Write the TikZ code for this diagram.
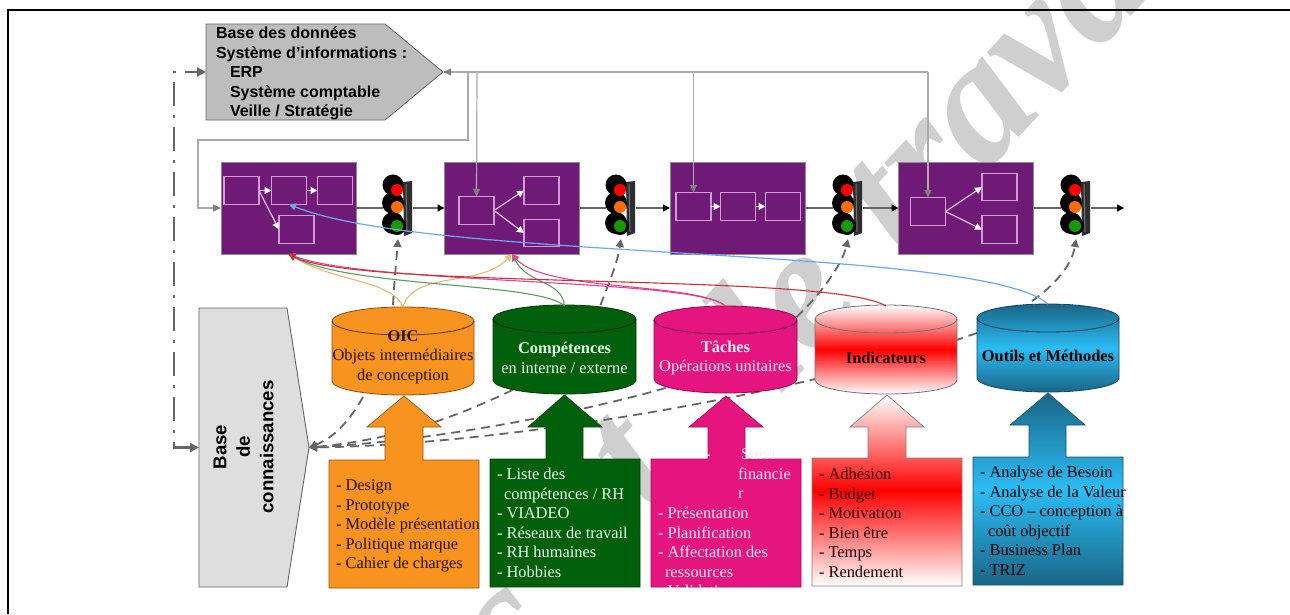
\documentclass[tikz,border=0pt]{standalone}
\usepackage{fontspec}
\setmainfont{Liberation Serif}
\setsansfont{Liberation Sans}
\usetikzlibrary{arrows.meta,calc}
\definecolor{purp}{HTML}{701A78}
\definecolor{pinkln}{HTML}{D79AD9}
\definecolor{grln}{HTML}{ABABAB}
\definecolor{dk}{HTML}{666666}
\definecolor{orng}{HTML}{F7931E}
\definecolor{grn}{HTML}{005F0B}
\definecolor{mag}{HTML}{E5147E}
\definecolor{bluedk}{HTML}{1A6585}
\definecolor{bluelt}{HTML}{2BBDF5}
\definecolor{wm}{HTML}{CFCFCF}
\tikzset{
 every node/.style={inner sep=0pt,outer sep=0pt},
 proc/.style={draw=black!45,fill=purp,line width=.7pt,minimum width=135pt,minimum height=92pt},
 sub/.style={draw=pinkln,line width=1.2pt,minimum width=35pt,minimum height=27.5pt},
 wa/.style={draw=pinkln!60!white,line width=1.2pt,-{Triangle[length=7pt,width=7pt,color=white]}},
 feed/.style={draw=grln,line width=1.2pt},
 feedar/.style={feed,-{Triangle[length=8pt,width=7pt,color=gray]}},
 mainln/.style={draw=dk,line width=1.5pt},
 mainar/.style={mainln,-{Triangle[length=7pt,width=7pt,color=black]}},
 dashar/.style={draw=dk,line width=1.8pt,dash pattern=on 9pt off 6pt,-{Triangle[length=8pt,width=8pt,color=dk]}},
 tl/.style={minimum width=30pt,minimum height=62pt},
 lk/.style={line width=1.1pt,-{Triangle[length=7pt,width=7pt]}},
 lst/.style={anchor=north west,align=left,font=\fontsize{16.4}{19.5}\selectfont},
 cyltx/.style={align=center,font=\fontsize{16.4}{19.5}\selectfont},
 cylbox/.style={minimum height=88pt,minimum width=142pt},
 wmtx/.style={rotate=47,text=wm,font=\fontsize{175}{175}\selectfont\bfseries\itshape},
}
\newcommand\cylp[4]{% x1 x2 ytop ybot
 \pgfmathsetmacro\xm{(#1+#2)/2}\pgfmathsetmacro\ka{(#2-#1)/2*.5523}
 \pgfmathsetmacro\ytt{#3+14}\pgfmathsetmacro\ybb{#4-14}
 \pgfmathsetmacro\ya{#3+6.3}\pgfmathsetmacro\yb{#4-6.3}\pgfmathsetmacro\yc{#3+21.7}\pgfmathsetmacro\yd{#3+28}
 \pgfmathsetmacro\xa{\xm-\ka}\pgfmathsetmacro\xb{\xm+\ka}
 \path[cylfill] (#1,\ytt) .. controls (#1,\ya) and (\xa,#3) .. (\xm,#3) .. controls (\xb,#3) and (#2,\ya) .. (#2,\ytt) -- (#2,\ybb) .. controls (#2,\yb) and (\xb,#4) .. (\xm,#4) .. controls (\xa,#4) and (#1,\yb) .. (#1,\ybb) -- cycle;
 \path[cylline] (#1,\ytt) .. controls (#1,\yc) and (\xa,\yd) .. (\xm,\yd) .. controls (\xb,\yd) and (#2,\yc) .. (#2,\ytt);}
\newcommand\arbox[9]{% boxl boxr boxt boxb shaftl shaftr wingl wingr wingy ; tip from macros
 \path[arfill] (#1,#3) -- (#5,#3) -- (#5,#9) -- (#7,#9) -- (\tipx,\tipy) -- (#8,#9) -- (#6,#9) -- (#6,#3) -- (#2,#3) -- (#2,#4) -- (#1,#4) -- cycle;}
\newcommand\tlight[1]{%
 \path[fill=black!82] ($(#1.center)+(5,-26)$) -- ($(#1.center)+(14,-27)$) -- ($(#1.center)+(14,25)$) -- ($(#1.center)+(6,28)$) -- cycle;
 \draw[black!55,line width=1pt] ($(#1.center)+(8,-24)$) -- ($(#1.center)+(9,24)$);
 \fill[black] ($(#1.center)+(-5,-23)$) circle[radius=10.5pt];
 \fill[black] ($(#1.center)+(-5,-5)$) circle[radius=11pt];
 \fill[black] ($(#1.center)+(-5,15)$) circle[radius=11pt];
 \fill[black] ($(#1.center)+(-1,18)$) circle[radius=9pt];
 \fill[red] ($(#1.center)+(-1,-18)$) circle[radius=6pt];
 \fill[orange!85!red] ($(#1.center)+(-1,-1)$) circle[radius=6pt];
 \fill[green!55!black!90!yellow] ($(#1.center)+(-1,18)$) circle[radius=6pt];}
\begin{document}
\begin{tikzpicture}[x=1pt,y=-1pt]
\useasboundingbox (0,0) rectangle (1290,614);
\fill[white] (0,0) rectangle (1290,614);
% watermark
\begin{scope}
\clip (0,0) rectangle (1290,614);
\node[wmtx] (wm1) at (510,640) {c};
\node[wmtx] (wm2) at (632,462) {t};
\node[wmtx] (wm3) at (779,309) {le};
\node[wmtx] (wm4) at (996,91) {trava};
\end{scope}
% frame
\draw[black,line width=2pt] (7,10) -- (1290,10);
\draw[black,line width=1.8pt] (8,10) -- (8,614);
% nodes: cylinders (anchors only)
\node[cylbox] (oic) at (403,351) {};
\node[cylbox] (comp) at (564.5,350) {};
\node[cylbox] (tach) at (725.5,350) {};
\node[cylbox] (indi) at (886,350) {};
\node[cylbox] (outi) at (1048,348) {};
\node[minimum width=237pt,minimum height=96pt] (sys) at (324.5,72) {};
\node[minimum width=110pt,minimum height=279pt] (base) at (254,447.5) {};
% dashed to base
\draw[dashar] (oic.south west)+(31,2) .. controls (350,420) and (335,437) .. (base.east);
\draw[dashar] (comp.south west)+(19,-4) .. controls (450,420) and (390,440) .. (base.east);
\draw[dashar] (tach.south west)+(11,-6) .. controls (600,407) and (450,440) .. (base.east);
\draw[dashar] (outi.west)+(0,-15) .. controls (800,395) and (500,445) .. (base.east);
% pentagon + base shape
\path[fill=black!26,draw=dk,line width=.8pt] (206,24) -- (385,24) -- (443,72) -- (385,120) -- (206,120) -- cycle;
\path[fill=black!13,draw=dk,line width=.9pt] (199,308) -- (287,308) -- (309,447.5) -- (287,587) -- (199,587) -- cycle;
% arrow boxes
\def\tipx{404}\def\tipy{396}
\begingroup\tikzset{arfill/.style={fill=orng,draw=orng!60!black,line width=.7pt}}
\arbox{329}{479}{460}{588}{385}{423}{367}{441}{427}\endgroup
\def\tipx{564.5}\def\tipy{395}
\begingroup\tikzset{arfill/.style={fill=grn,draw=grn!70!black,line width=.7pt}}
\arbox{490}{640}{459}{587}{546}{583}{528}{602}{427}\endgroup
\def\tipx{726}\def\tipy{396}
\begingroup\tikzset{arfill/.style={fill=mag,draw=mag!70!black,line width=.7pt}}
\arbox{651}{801}{459}{587}{708}{745}{689}{763}{427}\endgroup
\def\tipx{887}\def\tipy{395}
\begingroup\tikzset{arfill/.style={top color=white,bottom color=white,middle color=red,draw=black!50,line width=.7pt}}
\arbox{812}{962}{458}{586}{868}{906}{850}{924}{427}\endgroup
\def\tipx{1048}\def\tipy{393}
\begingroup\tikzset{arfill/.style={top color=bluedk,bottom color=bluedk,middle color=bluelt,draw=bluedk!80!black,line width=.7pt}}
\arbox{973}{1123}{457}{585}{1029}{1066}{1010}{1085}{425}\endgroup
% cylinders
\begingroup\tikzset{cylfill/.style={fill=orng,draw=orng!55!black,line width=.8pt},cylline/.style={draw=orng!35!black,line width=.8pt}}
\cylp{332}{474}{307}{395}\endgroup
\begingroup\tikzset{cylfill/.style={fill=grn,draw=grn!60!black,line width=.8pt},cylline/.style={draw=grn!40!black,line width=.8pt}}
\cylp{493}{636}{305}{394}\endgroup
\begingroup\tikzset{cylfill/.style={fill=mag,draw=mag!60!black,line width=.8pt},cylline/.style={draw=mag!40!black,line width=.8pt}}
\cylp{654}{797}{306}{393}\endgroup
\begingroup\tikzset{cylfill/.style={top color=white,bottom color=white,middle color=red,draw=black!55,line width=.8pt},cylline/.style={draw=black!55,line width=.8pt}}
\cylp{815}{957}{305}{394}\endgroup
\begingroup\tikzset{cylfill/.style={top color=bluedk,bottom color=bluedk,middle color=bluelt,draw=bluedk!70!black,line width=.8pt},cylline/.style={draw=bluedk!60!black,line width=.8pt}}
\cylp{977}{1119}{304}{392}\endgroup
% process boxes
\node[proc] (p1) at (288.5,208) {};
\node[proc] (p2) at (512,208) {};
\node[proc] (p3) at (737.5,208) {};
\node[proc] (p4) at (966,208) {};
\node[sub] (a1) at (241.5,190.5) {};
\node[sub] (a2) at (289,190.5) {};
\node[sub] (a3) at (335,190.5) {};
\node[sub] (a4) at (296.5,229.5) {};
\node[sub] (b1) at (476.5,210.5) {};
\node[sub] (b2) at (541.5,190.5) {};
\node[sub] (b3) at (541.5,233) {};
\node[sub] (c1) at (693.5,206.5) {};
\node[sub] (c2) at (738,206.5) {};
\node[sub] (c3) at (783,206.5) {};
\node[sub] (d1) at (928,211.5) {};
\node[sub] (d2) at (999.5,187) {};
\node[sub] (d3) at (999.5,229.5) {};
\draw[wa] (a1.east) -- (a2.west);
\draw[wa] (a2.east) -- (a3.west);
\draw[wa] (a1.east) -- (a4.west);
\draw[wa] (b1.east) -- (b2.west);
\draw[wa] (b1.east) -- (b3.west);
\draw[wa] (c1.east) -- (c2.west);
\draw[wa] (c2.east) -- (c3.west);
\draw[wa] (d1.east) -- (d2.west);
\draw[wa] (d1.east) -- (d3.west);
% traffic lights
\node[tl] (t1) at (398,208) {};
\node[tl] (t2) at (621,208) {};
\node[tl] (t3) at (848,208) {};
\node[tl] (t4) at (1076,208) {};
\coordinate (endp) at (1124,208);
\tlight{t1}\tlight{t2}\tlight{t3}\tlight{t4}
% main line
\draw[mainln] (p1.east) -- (t1.west);
\draw[mainar] (t1.east) -- (p2.west);
\draw[mainln] (p2.east) -- (t2.west);
\draw[mainar] (t2.east) -- (p3.west);
\draw[mainln] (p3.east) -- (t3.west);
\draw[mainar] (t3.east) -- (p4.west);
\draw[mainln] (p4.east) -- (t4.west);
\draw[mainar] (t4.east) -- (endp);
% grey feed lines
\draw[feedar] (928,72) -- (sys.east);
\draw[feedar] (477,72) -- (b1.north);
\draw[feedar] (693.5,72) -- (c1.north);
\draw[feedar] (928,72) -- (d1.north);
\draw[feedar,line width=1.4pt] (468,72) |- (198,140) |- (p1.west);
% dash-dot
\draw[draw=dk,line width=2.2pt,dash pattern=on 24pt off 9pt on 3pt off 9pt,dash phase=11pt,{Triangle[length=9pt,width=9pt,color=dk]}-{Triangle[length=9pt,width=9pt,color=dk]}] (sys.west) -| (174,300) |- (base.west);
% dashed to lights
\draw[dashar] (oic.north)+(-10,-2) .. controls (394,285) and (396,265) .. (t1.south);
\draw[dashar] (comp.north)+(36,-1) .. controls (608,285) and (617,265) .. (t2.south);
\draw[dashar] (tach.north east)+(0,11) .. controls (820,295) and (842,265) .. (t3.south);
\draw[dashar] (outi.north)+(-16,-3) .. controls (1055,285) and (1072,265) .. (t4.south);
% curved links
\definecolor{lorg}{HTML}{EDB672}\definecolor{lgrn}{HTML}{5E9A63}\definecolor{lpnk}{HTML}{D9478F}\definecolor{lred}{HTML}{C8323C}\definecolor{lblu}{HTML}{6FA8E8}
\draw[lk,lorg] (oic.north) .. controls (392,280) and (335,282) .. (p1.south);
\draw[lk,lorg] (oic.north) .. controls (414,270) and (480,288) .. (p2.south);
\draw[lk,lgrn] (comp.north) .. controls (540,282) and (350,288) .. (p1.south);
\draw[lk,lgrn] (comp.north) .. controls (562,280) and (528,285) .. (p2.south);
\draw[lk,lpnk] (tach.north) .. controls (695,278) and (370,285) .. (p1.south);
\draw[lk,lpnk] (tach.north) .. controls (695,282) and (545,292) .. (p2.south);
\draw[lk,lred] (indi.north) .. controls (830,272) and (360,290) .. (p1.south);
\draw[lk,lblu,line width=1.2pt] (outi.north) .. controls (980,245) and (430,262) .. (a2.south);
% texts
\node[font=\sffamily\bfseries\fontsize{16}{19.5}\selectfont,anchor=north west,align=left] (systx) at (216,25) {\strut Base des données\\Système d’informations :\\\hspace{14pt}ERP\\\hspace{14pt}Système comptable\\\hspace{14pt}Veille / Stratégie};
\node[rotate=90,font=\sffamily\bfseries\fontsize{18.6}{23.5}\selectfont,align=center] (basetx) at (243.5,447) {Base\\de\\connaissances};
\node[cyltx,text=black!85!orange] (t-oic) at (403,357) {\textbf{OIC}\\Objets intermédiaires\\de conception};
\node[cyltx,text=white!90!green] (t-comp) at (564.5,358) {\textbf{Compétences}\\en interne / externe};
\node[cyltx,text=white!92!mag] (t-tach) at (725.5,358) {\textbf{Tâches}\\Opérations unitaires};
\node[cyltx,text=black!90!red] (t-indi) at (886,358) {\textbf{Indicateurs}};
\node[cyltx,text=black] (t-outi) at (1048,356) {\textbf{Outils et Méthodes}};
\node[lst,text=black!85!orange] (l-oic) at (336,477) {\strut- Design\\- Prototype\\- Modèle présentation\\- Politique marque\\- Cahier de charges};
\node[lst,text=white!90!green] (l-comp) at (497,466) {\strut- Liste des\\\hspace{7pt}compétences / RH\\- VIADEO\\- Réseaux de travail\\- RH humaines\\- Hobbies};
\node[lst,text=white!92!mag] (l-tach1) at (738,446) {\strut\hspace{3pt}Suivi\\financie\\r};
\node[lst,text=white] (l-tachd) at (705,446) {\strut-};
\node[lst,text=white!92!mag] (l-tach2) at (658,505) {\strut- Présentation\\- Planification\\- Affectation des\\\hspace{7pt}ressources};
\node[lst,text=white] (l-tach3) at (658,583) {\strut- Validation};
\node[lst,text=black!85!red] (l-indi) at (819,466) {\strut- Adhésion\\- Budget\\- Motivation\\- Bien être\\- Temps\\- Rendement};
\node[lst,text=black] (l-outi) at (980,464) {\strut- Analyse de Besoin\\- Analyse de la Valeur\\- CCO – conception à\\\hspace{8pt}coût objectif\\- Business Plan\\- TRIZ};
\end{tikzpicture}
\end{document}
